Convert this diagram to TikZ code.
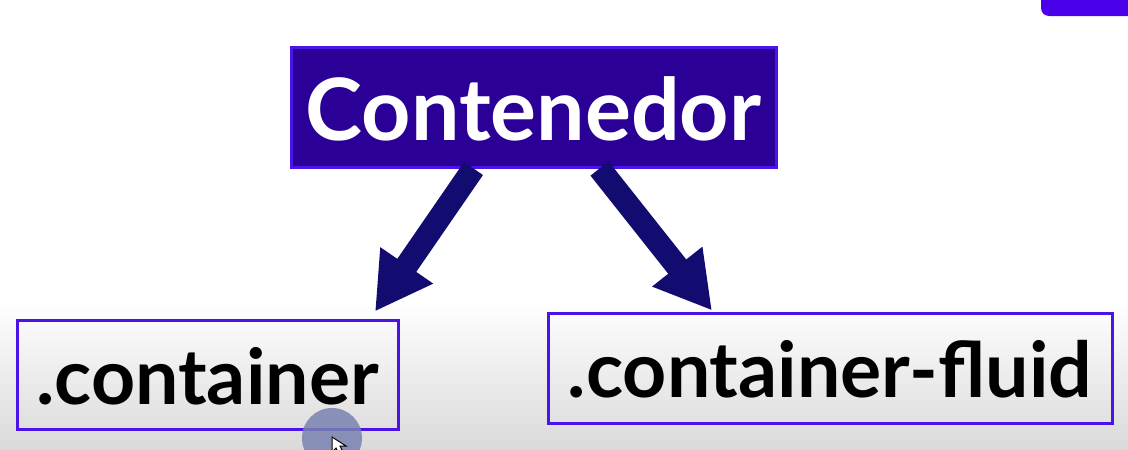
\documentclass[tikz,border=0pt]{standalone}
\usepackage{fontspec}
\setmainfont{Lato}
\usetikzlibrary{arrows.meta,calc,positioning}
\definecolor{boxfill}{HTML}{2A0096}
\definecolor{boxline}{HTML}{4A14E8}
\definecolor{arrowblue}{HTML}{120C70}
\definecolor{tabfill}{HTML}{4A00E8}
\definecolor{floorgray}{HTML}{DADADA}
\definecolor{cursorgray}{HTML}{7A82B0}

\begin{document}
\begin{tikzpicture}[x=1pt,y=-1pt,
  titlebox/.style={draw=boxline, line width=3pt, fill=boxfill, text=white, inner sep=0pt,
    minimum width=485pt, minimum height=120pt, text height=67pt, text depth=0pt,
    font=\fontsize{86}{86}\selectfont\bfseries},
  classbox/.style={draw=boxline, line width=3pt, inner sep=0pt, text=black,
    text height=59pt, text depth=0pt, font=\fontsize{77}{77}\selectfont\bfseries},
  bigarrow/.style={draw=arrowblue, line width=23pt, -{Triangle[length=56pt,width=60pt]}}]

\useasboundingbox (0,0) rectangle (1128,450);
\fill[white] (0,0) rectangle (1128,450);
\shade[top color=white, bottom color=floorgray] (0,300) rectangle (1128,450);
\fill[tabfill, rounded corners=8pt] (1041,-20) rectangle (1140,16);

\node[titlebox] (cont) at (533.5,107) {Contenedor};
\node[classbox, minimum width=381pt, minimum height=109pt] (fixed) at (207.5,374.5) {.container};
\node[classbox, minimum width=564pt, minimum height=110pt] (fluid) at (830,368) {.container-fluid};

\draw[bigarrow] ([xshift=-60pt]cont.south) -- ([xshift=167.5pt,yshift=7pt]fixed.north);
\draw[bigarrow] ([xshift=66pt]cont.south) -- ([xshift=-118pt,yshift=1pt]fluid.north);

\fill[cursorgray, opacity=0.85] (332,438) circle (30pt);
\draw[black, fill=white, line width=1pt] (332,437) -- (332,452) -- (336,448) -- (340,456) -- (344,454) -- (340,446) -- (346,446) -- cycle;
\end{tikzpicture}
\end{document}
